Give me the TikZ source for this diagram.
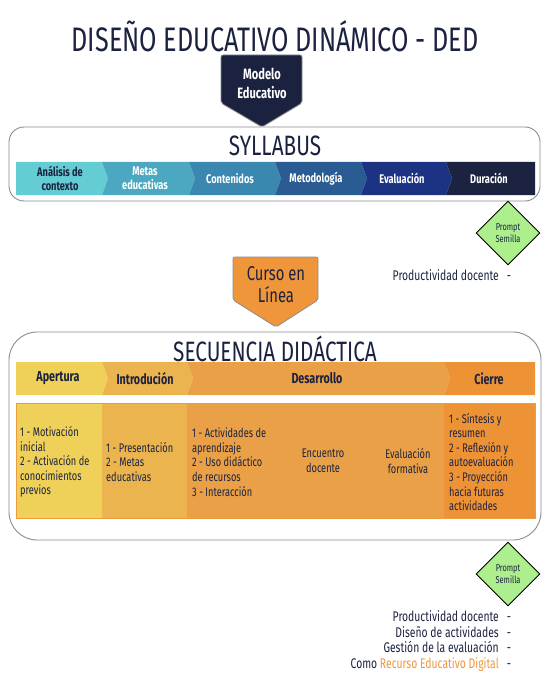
\documentclass[tikz,border=0pt]{standalone}
\usepackage{fontspec}
\setmainfont{Fira Sans}[FakeStretch=0.74]
\usetikzlibrary{shapes.geometric}
\definecolor{navy}{HTML}{1B2240}
\definecolor{bordergray}{HTML}{8C8C92}
\definecolor{cA}{HTML}{63CDD3}
\definecolor{cB}{HTML}{4BA8C0}
\definecolor{cC}{HTML}{3A87B0}
\definecolor{cD}{HTML}{2A5B93}
\definecolor{cE}{HTML}{1C3383}
\definecolor{cF}{HTML}{1C2340}
\definecolor{yA}{HTML}{EFD15A}
\definecolor{yB}{HTML}{EBB44E}
\definecolor{yC}{HTML}{E9A047}
\definecolor{yD}{HTML}{EE9236}
\definecolor{orangeBox}{HTML}{F0963A}
\definecolor{promptgreen}{HTML}{ADEF8D}
\tikzset{
  titletext/.style={text=navy, inner sep=0, font=\fontsize{34}{38}\selectfont},
  boxtitle/.style={text=navy, inner sep=0, font=\fontsize{28}{32}\selectfont},
  bandlabel/.style={inner sep=0, align=center, font=\bfseries\fontsize{12.5}{14}\selectfont},
  headlabel/.style={inner sep=0, align=center, text=navy, font=\bfseries\fontsize{14.5}{16}\selectfont},
  bodytext/.style={text=navy, inner sep=0, align=left, anchor=west, font=\fontsize{12.5}{14.6}\selectfont},
  centertext/.style={text=navy, inner sep=0, align=center, font=\fontsize{12.5}{14.6}\selectfont},
  frame/.style={draw=bordergray, line width=0.9pt, fill=white},
  promptdia/.style={diamond, aspect=1, minimum width=64pt, minimum height=64pt, inner sep=0,
     draw=black, line width=0.9pt, fill=promptgreen, text=navy, align=center,
     font=\fontsize{10}{11.5}\selectfont},
  sidetext/.style={text=navy, inner sep=0, anchor=base east, font=\fontsize{14}{16}\selectfont},
  dashtext/.style={inner sep=0, anchor=base, text=navy, font=\fontsize{14}{16}\selectfont},
}
\begin{document}
\begin{tikzpicture}[x=1pt,y=-1pt]
\useasboundingbox (0,0) rectangle (550,679);
% Title
\node[titletext] (title) at (275,36) {DISEÑO EDUCATIVO DINÁMICO - DED};

% Syllabus frame
\draw[frame, rounded corners=15pt] (9,127) rectangle (540,201);
\node[boxtitle] (syl) at (275,146) {SYLLABUS};
% chevrons
\def\sT{162}\def\sB{195}\def\sM{178.5}\def\sP{6}
\fill[cA] (16,\sT) -- (102,\sT) -- (102+\sP,\sM) -- (102,\sB) -- (16,\sB) -- cycle;
\fill[cB] (102,\sT) -- (189,\sT) -- (189+\sP,\sM) -- (189,\sB) -- (102,\sB) -- (102+\sP,\sM) -- cycle;
\fill[cC] (189,\sT) -- (275,\sT) -- (275+\sP,\sM) -- (275,\sB) -- (189,\sB) -- (189+\sP,\sM) -- cycle;
\fill[cD] (275,\sT) -- (361,\sT) -- (361+\sP,\sM) -- (361,\sB) -- (275,\sB) -- (275+\sP,\sM) -- cycle;
\fill[cE] (361,\sT) -- (446,\sT) -- (446+\sP,\sM) -- (446,\sB) -- (361,\sB) -- (361+\sP,\sM) -- cycle;
\fill[cF] (446,\sT) -- (535,\sT) -- (535,\sB) -- (446,\sB) -- (446+\sP,\sM) -- cycle;
\node[bandlabel, text=navy] (s1) at (60,\sM) {Análisis de\\contexto};
\node[bandlabel, text=white] (s2) at (145,\sM) {Metas\\educativas};
\node[bandlabel, text=white] (s3) at (230,\sM) {Contenidos};
\node[bandlabel, text=white] (s4) at (316,\sM) {Metodología};
\node[bandlabel, text=white] (s5) at (402,\sM) {Evaluación};
\node[bandlabel, text=white] (s6) at (489,\sM) {Duración};

% Modelo Educativo arrow
\draw[fill=navy, draw=bordergray, line width=0.8pt, rounded corners=2pt]
  (221,55) -- (302,55) -- (302,103) -- (262,127) -- (221,103) -- cycle;
\node[inner sep=0, align=center, text=white, font=\bfseries\fontsize{15}{19}\selectfont] (modelo) at (262,83) {Modelo\\Educativo};

% Prompt 1
\node[promptdia] (p1) at (508,233) {Prompt\\Semilla};
\node[sidetext] (prod1) at (499,280) {Productividad docente};
\node[dashtext] (d1) at (509,280) {-};

% Secuencia frame
\draw[frame, rounded corners=28pt] (9,332) rectangle (541,540);
\node[boxtitle] (sec) at (275,349) {SECUENCIA DIDÁCTICA};
\def\qT{362}\def\qB{395}\def\qM{378.5}\def\qP{6}
\fill[yA] (16,\qT) -- (102,\qT) -- (102+\qP,\qM) -- (102,\qB) -- (16,\qB) -- cycle;
\fill[yB] (102,\qT) -- (187,\qT) -- (187+\qP,\qM) -- (187,\qB) -- (102,\qB) -- (102+\qP,\qM) -- cycle;
\fill[yC] (187,\qT) -- (444,\qT) -- (444+\qP,\qM) -- (444,\qB) -- (187,\qB) -- (187+\qP,\qM) -- cycle;
\fill[yD] (444,\qT) -- (535,\qT) -- (535,\qB) -- (444,\qB) -- (444+\qP,\qM) -- cycle;
\node[headlabel] (h1) at (58,\qM) {Apertura};
\node[headlabel] (h2) at (145,\qM) {Introdución};
\node[headlabel] (h3) at (317,\qM) {Desarrollo};
\node[headlabel] (h4) at (489,\qM) {Cierre};
% content band
\fill[yA] (16,403) rectangle (102,518);
\fill[yB] (102,403) rectangle (187,518);
\fill[yC] (187,403) rectangle (444,518);
\fill[yD] (444,403) rectangle (535,518);
\draw[draw=yC!90!orange, line width=0.6pt] (16,403) rectangle (535,518);
\node[bodytext] (b1) at (20,462) {1 - Motivación\\inicial\\2 - Activación de\\conocimientos\\previos};
\node[bodytext] (b2) at (106,462) {1 - Presentación\\2 - Metas\\educativas};
\node[bodytext] (b3) at (192,462) {1 - Actividades de\\aprendizaje\\2 - Uso didáctico\\de recursos\\3 - Interacción};
\node[centertext] (b4) at (323,461) {Encuentro\\docente};
\node[centertext] (b5) at (408,461) {Evaluación\\formativa};
\node[bodytext] (b6) at (449,462) {1 - Síntesis y\\resumen\\2 - Reflexión y\\autoevaluación\\3 - Proyección\\hacia futuras\\actividades};

% Curso en Linea arrow
\draw[fill=orangeBox, draw=bordergray, line width=0.8pt, rounded corners=2pt]
  (233,257) -- (318,257) -- (318,300) -- (276,327) -- (233,300) -- cycle;
\node[inner sep=0, align=center, text=navy, font=\fontsize{20}{22}\selectfont] (curso) at (276,285) {Curso en\\Línea};

% Prompt 2
\node[promptdia] (p2) at (508,574) {Prompt\\Semilla};
\node[sidetext] (l1) at (499,621) {Productividad docente};
\node[sidetext] (l2) at (499,637) {Diseño de actividades};
\node[sidetext] (l3) at (499,652.5) {Gestión de la evaluación};
\node[sidetext] (l4) at (499,668) {Como \textcolor{orangeBox}{Recurso Educativo Digital}};
\foreach \yy/\nm in {621/e1,637/e2,652.5/e3,668/e4}
  \node[dashtext] (\nm) at (509,\yy) {-};
\end{tikzpicture}
\end{document}
